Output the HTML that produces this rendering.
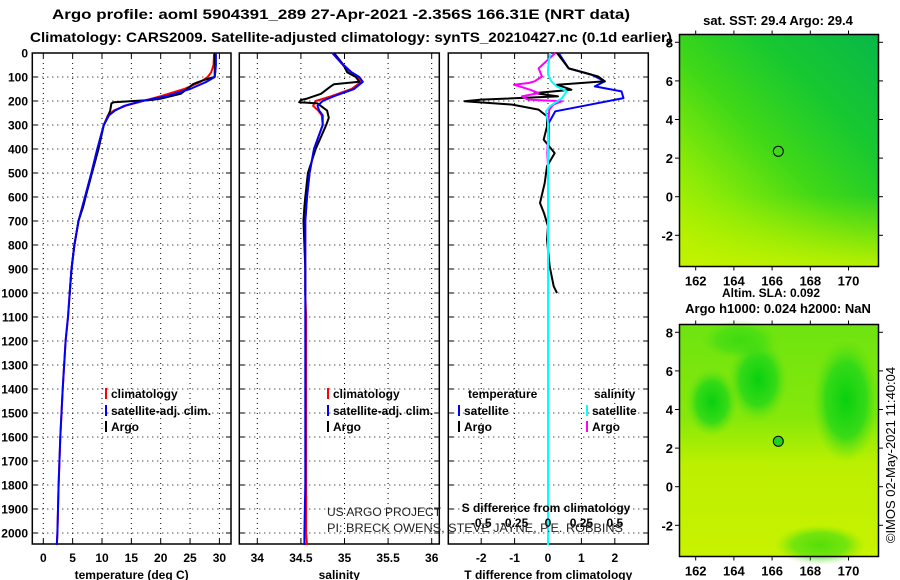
<!DOCTYPE html>
<html><head><meta charset="utf-8"><style>
html,body{margin:0;padding:0;background:#fff;}
svg{display:block;font-family:"Liberation Sans",sans-serif;}
.b{font-weight:bold;}
</style></head><body>
<svg id="chart" width="900" height="580" viewBox="0 0 900 580" xmlns="http://www.w3.org/2000/svg">
<defs>
<linearGradient id="sstGrad" x1="1" y1="0" x2="0.15" y2="1">
<stop offset="0" stop-color="#08b848"/><stop offset="0.3" stop-color="#18c830"/>
<stop offset="0.55" stop-color="#40d818"/><stop offset="0.8" stop-color="#88ea08"/><stop offset="1" stop-color="#b8f200"/>
</linearGradient>
<linearGradient id="sstBottom" x1="0" y1="0" x2="0" y2="1">
<stop offset="0" stop-color="#a8ee00" stop-opacity="0"/><stop offset="1" stop-color="#c4f200" stop-opacity="0.9"/>
</linearGradient>
<linearGradient id="slaGrad" x1="0" y1="0" x2="0" y2="1">
<stop offset="0" stop-color="#6ee410"/><stop offset="0.4" stop-color="#86e80a"/>
<stop offset="0.6" stop-color="#bcf000"/><stop offset="1" stop-color="#c8f200"/>
</linearGradient>
<radialGradient id="blob"><stop offset="0" stop-color="#08d010"/><stop offset="0.6" stop-color="#28d818" stop-opacity="0.85"/><stop offset="1" stop-color="#60e010" stop-opacity="0"/></radialGradient>
</defs>
<text class="b" x="341" y="19" font-size="14" text-anchor="middle" textLength="578" lengthAdjust="spacingAndGlyphs">Argo profile: aoml 5904391_289 27-Apr-2021 -2.356S 166.31E (NRT data)</text>
<text class="b" x="351" y="42" font-size="14" text-anchor="middle" textLength="642" lengthAdjust="spacingAndGlyphs">Climatology: CARS2009. Satellite-adjusted climatology: synTS_20210427.nc (0.1d earlier)</text>
<g id="plots"></g>
<g>
<rect x="680" y="35" width="198" height="232" fill="url(#sstGrad)"/>
<rect x="680" y="195" width="198" height="72" fill="url(#sstBottom)"/>
<rect x="679.5" y="34.5" width="199" height="232" fill="none" stroke="#000" stroke-width="1.5"/>
<circle cx="778.3" cy="151.3" r="5" fill="none" stroke="#000"/>
</g>
<g>
<rect x="680" y="325" width="198" height="232" fill="url(#slaGrad)"/>
<ellipse cx="758" cy="380" rx="30" ry="42" fill="url(#blob)"/>
<ellipse cx="712" cy="402" rx="26" ry="34" fill="url(#blob)"/>
<ellipse cx="846" cy="400" rx="34" ry="62" fill="url(#blob)"/>
<ellipse cx="740" cy="340" rx="40" ry="20" fill="url(#blob)" opacity="0.5"/>
<ellipse cx="820" cy="545" rx="45" ry="20" fill="url(#blob)" opacity="0.6"/>
<rect x="679.5" y="324.5" width="199" height="232" fill="none" stroke="#000" stroke-width="1.5"/>
<circle cx="778.3" cy="441.3" r="5" fill="#20d020" stroke="#000"/>
</g>
<text class="b" x="778" y="25" font-size="13" text-anchor="middle">sat. SST: 29.4 Argo: 29.4</text>
<text class="b" x="771" y="297" font-size="12" text-anchor="middle">Altim. SLA: 0.092</text>
<text class="b" x="778" y="313" font-size="13" text-anchor="middle">Argo h1000: 0.024 h2000: NaN</text>
<text x="895" y="455" font-size="13" text-anchor="middle" transform="rotate(-90 895 455)">©IMOS 02-May-2021 11:40:04</text>
<text x="327" y="516" font-size="12" fill="#222">US ARGO PROJECT</text>
<text x="327" y="532" font-size="12" fill="#222" textLength="296" lengthAdjust="spacingAndGlyphs">PI: BRECK OWENS, STEVE JAYNE, P.E. ROBBINS</text>
</svg>
<script>
// ---- data ----
const depthTicks = [0,100,200,300,400,500,600,700,800,900,1000,1100,1200,1300,1400,1500,1600,1700,1800,1900,2000];
const tempTicks = [0,5,10,15,20,25,30];
const salTicks = [34,34.5,35,35.5,36];
const tdiffTicks = [-2,-1,0,1,2];
const sdiffTicks = [-0.5,-0.25,0,0.25,0.5];
const mapLonTicks = [162,164,166,168,170];
const mapLatTicks = [8,6,4,2,0,-2];

const climDepth = [0,50,80,100,120,150,180,200,220,240,260,300,400,500,600,700,800,900,1000,1100,1200,1400,1600,1800,2000,2050];
const tempClim = [29.1,29.0,28.6,28.0,26.8,24.0,20.0,17.0,14.0,12.0,11.0,10.3,9.2,8.2,7.1,6.0,5.3,4.8,4.5,4.2,3.8,3.3,2.9,2.6,2.4,2.3];
const tempSat = [29.4,29.4,29.3,29.2,27.8,25.0,21.0,16.8,13.8,12.2,11.2,10.3,9.2,8.2,7.1,6.0,5.3,4.8,4.5,4.2,3.8,3.3,2.9,2.6,2.4,2.3];
const salClim = [34.86,34.98,35.06,35.15,35.19,35.08,34.85,34.67,34.64,34.7,34.74,34.75,34.65,34.6,34.57,34.55,34.55,34.55,34.55,34.56,34.56,34.56,34.56,34.56,34.56,34.57];
const salSat = [34.86,34.99,35.08,35.17,35.21,35.11,34.88,34.75,34.69,34.71,34.75,34.75,34.65,34.6,34.57,34.55,34.55,34.55,34.55,34.55,34.55,34.55,34.55,34.55,34.54,34.54];

const argoDepth = [0,50,80,100,110,120,130,140,170,190,196,205,210,240,270,300,400,500,600,640,700,800,900,1000,1010];
const tempArgo = [29.2,29.2,29.2,29.2,27.7,26.5,25.5,25.0,23.4,20.0,18.3,12.0,11.6,11.4,10.9,10.3,9.4,8.3,7.2,6.8,6.0,5.3,4.8,4.5,4.5];
const salArgo = [34.88,34.99,35.03,35.13,35.15,35.17,34.88,34.84,34.73,34.57,34.5,34.48,34.69,34.8,34.82,34.79,34.67,34.58,34.55,34.54,34.53,34.54,34.55,34.55,34.55];

const diffDepth = [0,64,98,118,125,132,153,167,181,194,201,215,236,264,306,361,417,472,542,625,667,722,778,889,972,1000];
const tdiffArgo = [0.27,0.62,1.5,1.7,1.0,0.27,0.7,-0.4,0.3,-2.0,-2.5,-1.07,-0.28,-0.03,-0.03,-0.13,0.2,-0.03,-0.1,-0.24,-0.12,0.0,-0.03,0.05,0.17,0.27];
const sdiffArgo = [0.055,-0.07,-0.045,-0.1,-0.145,-0.255,-0.135,-0.07,-0.195,-0.15,0.105,0.04,0.01,0.005,0.0,0.0,-0.005,0.0,0.0,0.0,0.0,0.0,0.0,0.0,0.0,0.0];
const satDiffDepth = [0,64,90,118,139,160,188,222,243,292,500,1000,1500,2050];
const tdiffSat = [0.32,0.62,1.3,1.7,1.4,2.2,2.26,1.0,0.22,0.02,0.0,0.0,0.0,0.0];
const sdiffSat = [0.015,0.0,0.0,0.025,0.065,0.14,0.105,0.015,-0.015,0.0,0.0,0.0,0.0,0.0];

// ---- helpers ----
const NS = 'http://www.w3.org/2000/svg';
const root = document.getElementById('plots');
const Y0 = 53, PY = 0.24, YB = 544;
const yD = d => Y0 + d * PY;
function mk(tag, attrs, parent){ const e = document.createElementNS(NS, tag); for (const k in attrs) e.setAttribute(k, attrs[k]); (parent||root).appendChild(e); return e; }

const panels = [
  {name:'temperature', x0:32.3, x1:231, sx:v => 43.3 + v*5.87, ticks:tempTicks, title:'temperature (deg C)'},
  {name:'salinity', x0:239.3, x1:439.3, sx:v => 257.3 + (v-34)*87.2, ticks:salTicks, title:'salinity'},
  {name:'difference', x0:448.3, x1:648.3, sx:v => 548 + v*33.4, ticks:tdiffTicks, title:'T difference from climatology'}
];

panels.forEach((p, i) => {
  const g = mk('g', {});
  
  
  depthTicks.forEach(d => {
    if (d === 0) return;
    const l = mk('line', {x1:p.x0, x2:p.x1, y1:yD(d), y2:yD(d), stroke:'#000', 'stroke-width':1, 'stroke-dasharray':'1 4'}, g);
    
    
    mk('line', {x1:p.x0, x2:p.x0+5, y1:yD(d), y2:yD(d), stroke:'#000'}, g);
    mk('line', {x1:p.x1-5, x2:p.x1, y1:yD(d), y2:yD(d), stroke:'#000'}, g);
  });
  p.ticks.forEach(v => {
    const x = p.sx(v);
    const l = mk('line', {x1:x, x2:x, y1:Y0, y2:YB, stroke:'#000', 'stroke-width':1, 'stroke-dasharray':'1 4'}, g);
    
    
    mk('line', {x1:x, x2:x, y1:YB-5, y2:YB, stroke:'#000'}, g);
    mk('line', {x1:x, x2:x, y1:Y0, y2:Y0+5, stroke:'#000'}, g);
    const t = mk('text', {x:x, y:562, 'font-size':12, 'font-weight':'bold', 'text-anchor':'middle'}, g);
    t.textContent = String(v);
    
    
  });
  const fr = mk('rect', {x:p.x0, y:Y0, width:p.x1-p.x0, height:YB-Y0, fill:'none', stroke:'#000', 'stroke-width':1.5}, g);
  
  
  const at = mk('text', {x:(p.x0+p.x1)/2, y:579, 'font-size':12, 'font-weight':'bold', 'text-anchor':'middle'}, g);
  at.textContent = p.title;
  
  
});

depthTicks.forEach(d => {
  const t = mk('text', {x:28, y:yD(d)+4.5, 'font-size':12, 'font-weight':'bold', 'text-anchor':'end'});
  t.textContent = String(d);
  
  
});

function line(xs, ds, sx, color, name, w){
  const pts = xs.map((v, i) => sx(v).toFixed(1) + ',' + yD(ds[i]).toFixed(1)).join(' ');
  const e = mk('polyline', {points:pts, fill:'none', stroke:color, 'stroke-width':w||2, 'stroke-linejoin':'round'});
  
  
}
const [P1, P2, P3] = panels;
line(tempClim, climDepth, P1.sx, '#ff0000', 'temp-climatology-line');
line(tempArgo, argoDepth, P1.sx, '#000000', 'temp-argo-line');
line(tempSat, climDepth, P1.sx, '#0000ff', 'temp-satellite-line');
line(salClim, climDepth, P2.sx, '#ff0000', 'sal-climatology-line');
line(salArgo, argoDepth, P2.sx, '#000000', 'sal-argo-line');
line(salSat, climDepth, P2.sx, '#0000ff', 'sal-satellite-line');
const sS = v => 548 + v*4*33.4;
line(tdiffSat, satDiffDepth, P3.sx, '#0000ff', 'tdiff-satellite-line');
line(tdiffArgo, diffDepth, P3.sx, '#000000', 'tdiff-argo-line');
line(sdiffArgo, diffDepth, sS, '#ff00ff', 'sdiff-argo-line');
line(sdiffSat, satDiffDepth, sS, '#00ffff', 'sdiff-satellite-line');

(function(){
  const t = mk('text', {x:546, y:512, 'font-size':12, 'font-weight':'bold', 'text-anchor':'middle'});
  t.textContent = 'S difference from climatology';
  
  
  sdiffTicks.forEach(v => {
    const l = mk('text', {x:sS(v), y:527, 'font-size':12, 'font-weight':'bold', 'text-anchor':'middle'});
    l.textContent = String(v);
    
    
  });
})();

function legend(x, y, color, label){
  const g = mk('g', {});
  
  
  mk('rect', {x:x, y:y-10, width:2, height:11, fill:color}, g);
  const t = mk('text', {x:x+6, y:y, 'font-size':12, 'font-weight':'bold'}, g);
  t.textContent = label;
}
legend(105, 398, '#ff0000', 'climatology');
legend(105, 415, '#0000ff', 'satellite-adj. clim.');
legend(105, 431, '#000000', 'Argo');
legend(327, 398, '#ff0000', 'climatology');
legend(327, 415, '#0000ff', 'satellite-adj. clim.');
legend(327, 431, '#000000', 'Argo');
(function(){
  const a = mk('text', {x:468, y:398, 'font-size':12, 'font-weight':'bold'}); a.textContent = 'temperature';
   
  const b = mk('text', {x:594, y:398, 'font-size':12, 'font-weight':'bold'}); b.textContent = 'salinity';
   
})();
legend(458, 415, '#0000ff', 'satellite');
legend(458, 431, '#000000', 'Argo');
legend(586, 415, '#00ffff', 'satellite');
legend(586, 431, '#ff00ff', 'Argo');

const mapX = lon => 695.7 + (lon-162)*19.1;
[{y0:196.7, top:34.5, bot:266.5, nm:'sst'}, {y0:486.7, top:324.5, bot:556.5, nm:'sla'}].forEach(m => {
  mapLonTicks.forEach(lon => {
    const x = mapX(lon);
    mk('line', {x1:x, x2:x, y1:m.top-4, y2:m.top, stroke:'#000'});
    mk('line', {x1:x, x2:x, y1:m.bot, y2:m.bot+4, stroke:'#000'});
    const t = mk('text', {x:x, y:m.bot+19, 'font-size':13, 'font-weight':'bold', 'text-anchor':'middle'});
    t.textContent = String(lon);
    
    
  });
  mapLatTicks.forEach(lat => {
    const y = m.y0 - lat*19.3;
    mk('line', {x1:675, x2:679.5, y1:y, y2:y, stroke:'#000'});
    mk('line', {x1:878.5, x2:883, y1:y, y2:y, stroke:'#000'});
    const t = mk('text', {x:673, y:y+5, 'font-size':13, 'font-weight':'bold', 'text-anchor':'end'});
    t.textContent = String(lat);
    
    
  });
});
</script>
</body></html>
